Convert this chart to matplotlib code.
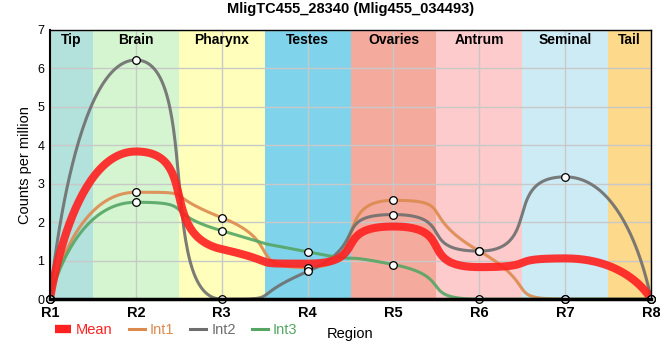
import numpy as np
from matplotlib import pyplot as plt
from matplotlib.lines import Line2D

plt.rcParams['font.family'] = ['Liberation Sans', 'DejaVu Sans']

title = 'MligTC455_28340 (Mlig455_034493)'
regions = ['R1', 'R2', 'R3', 'R4', 'R5', 'R6', 'R7', 'R8']
int1 = [0, 2.78, 2.12, 0.82, 2.57, 1.25, 0, 0]
int2 = [0, 6.22, 0, 0.72, 2.20, 1.25, 3.18, 0]
int3 = [0, 2.52, 1.78, 1.23, 0.90, 0, 0, 0]

tissues = ['Tip', 'Brain', 'Pharynx', 'Testes', 'Ovaries', 'Antrum', 'Seminal', 'Tail']
tissue_colors = ['#b3e2dd', '#d5f5d0', '#ffffbb', '#7fd4eb',
                 '#f4ab9d', '#fdcbcb', '#cdebf5', '#fdd98b']
tissue_edges = [1, 1.5, 2.5, 3.5, 4.5, 5.5, 6.5, 7.5, 8]


def smooth_line(ax, x, y, smooth=0.75, n=60):
    # bezier smoothing in screen space, control points clamped so no false extremes
    P = ax.transData.transform(np.column_stack([x, y]))
    N = len(P)
    out = []
    cp0 = P[0].copy()
    for k in range(1, N):
        prev, cur = P[k - 1], P[k]
        if k == N - 1:
            cp1 = cur.copy()
            nxt_cp0 = None
        else:
            nxt = P[k + 1]
            v = nxt - prev
            lp = abs(cur[0] - prev[0])
            ln = abs(nxt[0] - cur[0])
            r = ln / (ln + lp)
            nc = cur + v * smooth * r
            nc = np.maximum(np.minimum(nc, np.maximum(nxt, cur)), np.minimum(nxt, cur))
            v = nc - cur
            cp1 = cur - v * lp / ln
            cp1 = np.maximum(np.minimum(cp1, np.maximum(prev, cur)), np.minimum(prev, cur))
            v = cur - cp1
            nxt_cp0 = cur + v * ln / lp
        t = np.linspace(0, 1, n)[:, None]
        seg = (1 - t)**3 * prev + 3 * (1 - t)**2 * t * cp0 + 3 * (1 - t) * t**2 * cp1 + t**3 * cur
        out.append(seg)
        cp0 = nxt_cp0
    pts = ax.transData.inverted().transform(np.vstack(out))
    return pts[:, 0], pts[:, 1]


xpos = np.arange(1, len(regions) + 1)
mean = np.mean([int1, int2, int3], axis=0)

fig = plt.figure(figsize=(6.6, 3.6), dpi=100)
ax = fig.add_axes([0.0758, 0.169, 0.9106, 0.7477])
ax.set_xlim(1, 8)
ax.set_ylim(0, 7)

for i, name in enumerate(tissues):
    ax.axvspan(tissue_edges[i], tissue_edges[i + 1], color=tissue_colors[i], zorder=0, lw=0)
    ax.text((tissue_edges[i] + tissue_edges[i + 1]) / 2, 6.74, name, ha='center', va='center',
            fontsize=10, fontweight='bold', zorder=5)

ax.grid(True, color='#c8c8c8', lw=1, zorder=1)
ax.set_axisbelow(False)

series = [('Int1', int1, '#dd8a4f'), ('Int2', int2, '#6e6e6e'), ('Int3', int3, '#55a665')]
for name, vals, col in series:
    sx, sy = smooth_line(ax, xpos, vals)
    ax.plot(sx, sy, color=col, lw=2.2, alpha=0.9, zorder=3)

mx, my = smooth_line(ax, xpos, mean)
ax.plot(mx, my, color='#ff2020', lw=5.8, alpha=0.9, zorder=4, solid_capstyle='butt')

for name, vals, col in series:
    ax.plot(xpos, vals, ls='none', marker='o', ms=5.5, mfc='white', mec='black', mew=0.9, zorder=6,
            clip_on=False)

ax.set_xticks(xpos)
ax.set_xticklabels(regions, fontsize=10.5, fontweight='bold')
ax.set_yticks(range(8))
ax.tick_params(axis='y', labelsize=9, length=0, pad=4)
ax.tick_params(axis='x', length=0, pad=5)
for side in ['top', 'right']:
    ax.spines[side].set_linewidth(1)
ax.spines['left'].set_linewidth(1.5)
ax.spines['bottom'].set_linewidth(2.5)
for sp in ax.spines.values():
    sp.set_zorder(10)
ax.set_ylabel('Counts per million', fontsize=10.5)
ax.set_xlabel('Region', fontsize=10.5, labelpad=5)
ax.set_title(title, fontsize=10.5, fontweight='bold', pad=12)

handles = [Line2D([], [], color='#ff2020', lw=6, solid_capstyle='butt')]
handles += [Line2D([], [], color=c, lw=2.2) for _, _, c in series]
labels = ['Mean'] + [s[0] for s in series]
leg = fig.legend(handles, labels, loc='center left', bbox_to_anchor=(0.083, 0.083), ncol=4,
                 frameon=False, fontsize=10.5, handlelength=1.1, handletextpad=0.35,
                 columnspacing=1.1, borderpad=0, borderaxespad=0)
for txt, col in zip(leg.get_texts(), ['#ff2020'] + [s[2] for s in series]):
    txt.set_color(col)

fig.savefig('out.png', dpi=100)
